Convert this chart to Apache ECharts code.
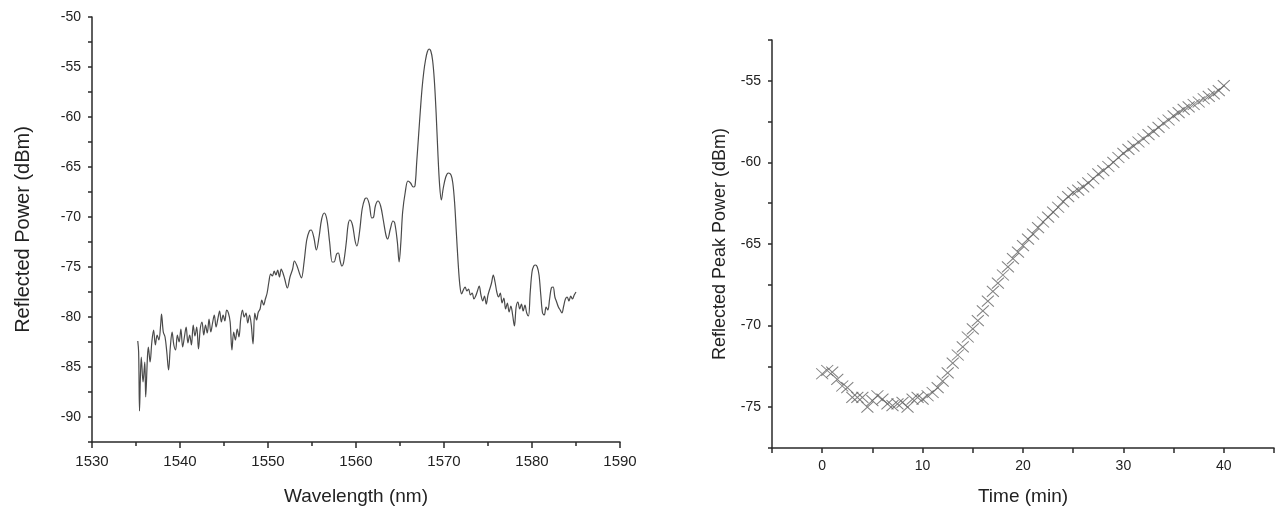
<!DOCTYPE html>
<html>
<head>
<meta charset="utf-8">
<script src="https://cdn.jsdelivr.net/npm/echarts@6/dist/echarts.min.js"></script>
<style>
  html, body { margin: 0; padding: 0; background: #fff; }
  #chart { width: 1277px; height: 511px; }
</style>
</head>
<body>
<div id="chart"></div>
<script>
// 左图：反射光谱
var wavelength = [
  1535.2, 1535.3, 1535.4, 1535.5, 1535.6, 1535.8, 1536.0, 1536.1, 1536.3, 1536.4,
  1536.6, 1536.8, 1537.0, 1537.2, 1537.4, 1537.6, 1537.8, 1537.9, 1538.1, 1538.3,
  1538.5, 1538.7, 1538.9, 1539.1, 1539.3, 1539.5, 1539.7, 1539.9, 1540.1, 1540.3,
  1540.5, 1540.7, 1540.9, 1541.1, 1541.3, 1541.5, 1541.7, 1541.9, 1542.1, 1542.3,
  1542.5, 1542.7, 1542.9, 1543.1, 1543.3, 1543.5, 1543.7, 1543.9, 1544.1, 1544.3,
  1544.5, 1544.7, 1544.9, 1545.1, 1545.3, 1545.5, 1545.7, 1545.9, 1546.1, 1546.3,
  1546.5, 1546.7, 1546.9, 1547.1, 1547.3, 1547.5, 1547.7, 1547.9, 1548.1, 1548.3,
  1548.5, 1548.7, 1548.9, 1549.1, 1549.3, 1549.5, 1549.7, 1549.9, 1550.1, 1550.3,
  1550.5, 1550.7, 1550.9, 1551.1, 1551.3, 1551.5, 1551.7, 1551.9, 1552.2, 1552.5,
  1552.8, 1553.0, 1553.3, 1553.6, 1553.8, 1554.1, 1554.4, 1554.7, 1554.9, 1555.2,
  1555.5, 1555.8, 1556.1, 1556.4, 1556.7, 1557.0, 1557.3, 1557.5, 1557.8, 1558.0,
  1558.2, 1558.4, 1558.6, 1558.9, 1559.1, 1559.3, 1559.6, 1559.9, 1560.1, 1560.4,
  1560.7, 1561.0, 1561.2, 1561.5, 1561.8, 1562.0, 1562.2, 1562.5, 1562.8, 1563.1,
  1563.4, 1563.6, 1563.9, 1564.2, 1564.4, 1564.7, 1564.9, 1565.1, 1565.3, 1565.6,
  1565.9, 1566.2, 1566.5, 1566.7, 1566.9, 1567.1, 1567.3, 1567.5, 1567.7, 1567.9,
  1568.1, 1568.3, 1568.5, 1568.7, 1568.9, 1569.1, 1569.3, 1569.5, 1569.7, 1569.9,
  1570.2, 1570.5, 1570.8, 1571.0, 1571.2, 1571.4, 1571.6, 1571.8, 1572.0, 1572.2,
  1572.4, 1572.6, 1572.8, 1573.0, 1573.2, 1573.4, 1573.6, 1573.8, 1574.0, 1574.2,
  1574.4, 1574.6, 1574.8, 1575.0, 1575.2, 1575.4, 1575.6, 1575.8, 1576.0, 1576.2,
  1576.4, 1576.6, 1576.8, 1577.0, 1577.2, 1577.4, 1577.6, 1577.8, 1578.0, 1578.2,
  1578.4, 1578.6, 1578.8, 1579.0, 1579.2, 1579.4, 1579.6, 1579.8, 1580.0, 1580.2,
  1580.4, 1580.6, 1580.8, 1581.0, 1581.2, 1581.4, 1581.6, 1581.8, 1582.0, 1582.2,
  1582.4, 1582.6, 1582.8, 1583.0, 1583.2, 1583.4, 1583.6, 1583.8, 1584.0, 1584.2,
  1584.4, 1584.6, 1584.8, 1585.0
];
var reflectedPower = [
  -82.4, -83.5, -89.4, -86.0, -84.0, -86.5, -84.5, -88.0, -84.0, -83.0,
  -84.5, -82.5, -81.3, -82.8, -81.8, -82.3, -80.8, -79.7, -81.5, -82.0,
  -83.5, -85.3, -83.0, -81.5, -82.8, -83.3, -81.8, -82.5, -81.2, -83.0,
  -82.0, -81.0, -82.6, -81.8, -82.8, -80.8, -81.9, -81.0, -83.2, -81.2,
  -80.5, -81.8, -80.8, -81.6, -80.2, -81.5, -80.6, -79.8, -81.0, -80.2,
  -79.4, -80.5, -79.8, -80.4, -79.3, -79.6, -80.5, -83.3, -81.5, -82.3,
  -81.2, -82.0, -80.2, -79.3, -80.0, -79.6, -80.6, -79.8, -80.8, -82.7,
  -79.6, -80.3, -79.5, -79.2, -78.3, -78.8, -78.2, -77.6, -76.5, -75.7,
  -75.9, -75.4, -75.8, -75.3, -76.0, -75.2, -75.6, -76.2, -77.1, -76.0,
  -75.2, -74.4, -74.9, -75.7, -76.1, -74.5, -72.3, -71.4, -71.3, -72.0,
  -73.3, -72.0, -70.2, -69.6, -70.3, -72.5, -74.5, -74.5, -73.7, -73.6,
  -74.4, -74.9, -74.5, -72.5, -70.8, -70.3, -70.8, -72.4, -72.9, -71.5,
  -69.2, -68.2, -68.1, -68.7, -70.1, -70.0, -68.9, -68.4, -68.9, -70.3,
  -71.8, -72.2, -71.2, -70.4, -70.6, -72.5, -74.5, -72.5, -69.5, -67.5,
  -66.4, -66.6, -67.0, -66.9, -64.5, -62.0, -59.5, -57.2, -55.5, -54.3,
  -53.5, -53.2, -53.4, -54.3, -56.3, -59.5, -63.5, -66.8, -68.3, -67.2,
  -66.0, -65.6, -65.8, -66.6, -68.5, -71.5, -74.5, -76.8, -77.7, -77.3,
  -77.0, -77.4, -77.2, -77.8, -77.6, -78.2, -77.9, -77.4, -76.9, -77.8,
  -78.4, -77.9, -78.7, -77.8, -77.2, -76.6, -75.8, -76.5, -77.5, -78.0,
  -77.6, -78.6, -78.1, -79.2, -78.6, -79.5, -78.9, -79.8, -80.9, -79.0,
  -78.5, -79.2, -78.7, -79.4, -78.8, -79.6, -79.9, -77.5, -75.5, -74.9,
  -74.8, -75.0, -75.8, -77.8, -79.6, -79.8, -79.0, -79.3, -78.2, -77.1,
  -77.0, -78.0, -78.5, -79.0, -79.3, -79.6, -78.9, -78.2, -78.0, -78.4,
  -77.9, -78.2, -77.8, -77.5
];

// 右图：反射峰值功率随时间变化
var timeMin = [
  0, 0.5, 1, 1.5, 2, 2.5, 3, 3.5, 4, 4.5,
  5, 5.5, 6, 6.5, 7, 7.5, 8, 8.5, 9, 9.5,
  10, 10.5, 11, 11.5, 12, 12.5, 13, 13.5, 14, 14.5,
  15, 15.5, 16, 16.5, 17, 17.5, 18, 18.5, 19, 19.5,
  20, 20.5, 21, 21.5, 22, 22.5, 23, 23.5, 24, 24.5,
  25, 25.5, 26, 26.5, 27, 27.5, 28, 28.5, 29, 29.5,
  30, 30.5, 31, 31.5, 32, 32.5, 33, 33.5, 34, 34.5,
  35, 35.5, 36, 36.5, 37, 37.5, 38, 38.5, 39, 39.5, 40
];
var peakPower = [
  -72.95, -72.75, -72.85, -73.3, -73.7, -73.8, -74.4, -74.4, -74.4, -75.0,
  -74.6, -74.3, -74.5, -74.8, -74.9, -74.8, -74.7, -75.0, -74.5, -74.4,
  -74.5, -74.3, -74.1, -73.8, -73.4, -72.9, -72.3, -71.8, -71.3, -70.7,
  -70.2, -69.7, -69.1, -68.5, -67.9, -67.4, -66.9, -66.4, -65.9, -65.5,
  -65.1, -64.7, -64.4, -64.0, -63.65, -63.35, -63.05, -62.75, -62.4, -62.1,
  -61.85, -61.7, -61.5, -61.25, -61.0, -60.7, -60.5, -60.25, -60.0, -59.7,
  -59.45, -59.2, -59.0, -58.75, -58.55, -58.3, -58.1, -57.85, -57.6, -57.4,
  -57.15, -56.95, -56.75, -56.6, -56.45, -56.3, -56.1, -55.95, -55.8, -55.6, -55.3
];

var chart = echarts.init(document.getElementById('chart'));

var fontFamily = 'Liberation Sans, Arial, sans-serif';
var axisColor = '#2a2a2a';

// 只显示5或10的整数倍刻度标签
function everyFive(v) {
  return Math.abs(v % 5) < 1e-6 ? String(v) : '';
}
function everyTen(v) {
  return Math.abs(v % 10) < 1e-6 ? String(v) : '';
}

function zip(a, b) {
  var out = [];
  for (var i = 0; i < a.length; i++) {
    out.push([a[i], b[i]]);
  }
  return out;
}

var axisLine = { show: true, onZero: false, lineStyle: { color: axisColor, width: 1.5 } };
var axisTick = { show: true, inside: false, length: 4, lineStyle: { color: axisColor, width: 1.5 } };

var option = {
  backgroundColor: '#fff',
  animation: false,
  textStyle: { fontFamily: fontFamily },
  grid: [
    { left: 92, top: 17, width: 528, height: 425 },
    { left: 772, top: 40, width: 505, height: 408 }
  ],
  xAxis: [{
    type: 'value',
    gridIndex: 0,
    min: 1530,
    max: 1590,
    interval: 10,
    name: 'Wavelength (nm)',
    nameLocation: 'middle',
    nameGap: 45,
    nameTextStyle: { fontSize: 19, color: '#222', fontFamily: fontFamily },
    axisLine: axisLine,
    axisTick: { show: true, inside: false, length: 6, lineStyle: { color: axisColor, width: 1.5 } },
    minorTick: { show: true, splitNumber: 2, length: 4, lineStyle: { color: axisColor, width: 1.5 } },
    axisLabel: { formatter: everyTen, fontSize: 15, color: '#222', margin: 12, fontFamily: fontFamily },
    splitLine: { show: false }
  }, {
    type: 'value',
    gridIndex: 1,
    min: -5,
    max: 45,
    interval: 5,
    name: 'Time (min)',
    nameLocation: 'middle',
    nameGap: 39,
    nameTextStyle: { fontSize: 19, color: '#222', fontFamily: fontFamily },
    axisLine: axisLine,
    axisTick: { show: true, inside: false, length: 5, lineStyle: { color: axisColor, width: 1.5 } },
    axisLabel: { formatter: everyTen, fontSize: 14, color: '#222', margin: 11, fontFamily: fontFamily },
    splitLine: { show: false }
  }],
  yAxis: [{
    type: 'value',
    gridIndex: 0,
    min: -92.5,
    max: -50,
    interval: 2.5,
    name: 'Reflected Power (dBm)',
    nameLocation: 'middle',
    nameGap: 59,
    nameTextStyle: { fontSize: 20, color: '#222', fontFamily: fontFamily },
    axisLine: axisLine,
    axisTick: axisTick,
    axisLabel: { formatter: everyFive, fontSize: 14, color: '#222', margin: 11, fontFamily: fontFamily },
    splitLine: { show: false }
  }, {
    type: 'value',
    gridIndex: 1,
    min: -77.5,
    max: -52.5,
    interval: 2.5,
    name: 'Reflected Peak Power (dBm)',
    nameLocation: 'middle',
    nameGap: 43,
    nameTextStyle: { fontSize: 18, color: '#222', fontFamily: fontFamily },
    axisLine: axisLine,
    axisTick: axisTick,
    axisLabel: { formatter: everyFive, fontSize: 14, color: '#222', margin: 11, fontFamily: fontFamily },
    splitLine: { show: false }
  }],
  series: [{
    type: 'line',
    xAxisIndex: 0,
    yAxisIndex: 0,
    data: zip(wavelength, reflectedPower),
    showSymbol: false,
    smooth: 0.35,
    lineStyle: { color: '#4a4a4a', width: 1.2 }
  }, {
    type: 'scatter',
    xAxisIndex: 1,
    yAxisIndex: 1,
    data: zip(timeMin, peakPower),
    symbol: 'path://M0,0L10,10M10,0L0,10',
    symbolSize: [12, 11],
    itemStyle: { color: 'none', borderColor: '#626262', borderWidth: 1 }
  }]
};

chart.setOption(option);
</script>
</body>
</html>
